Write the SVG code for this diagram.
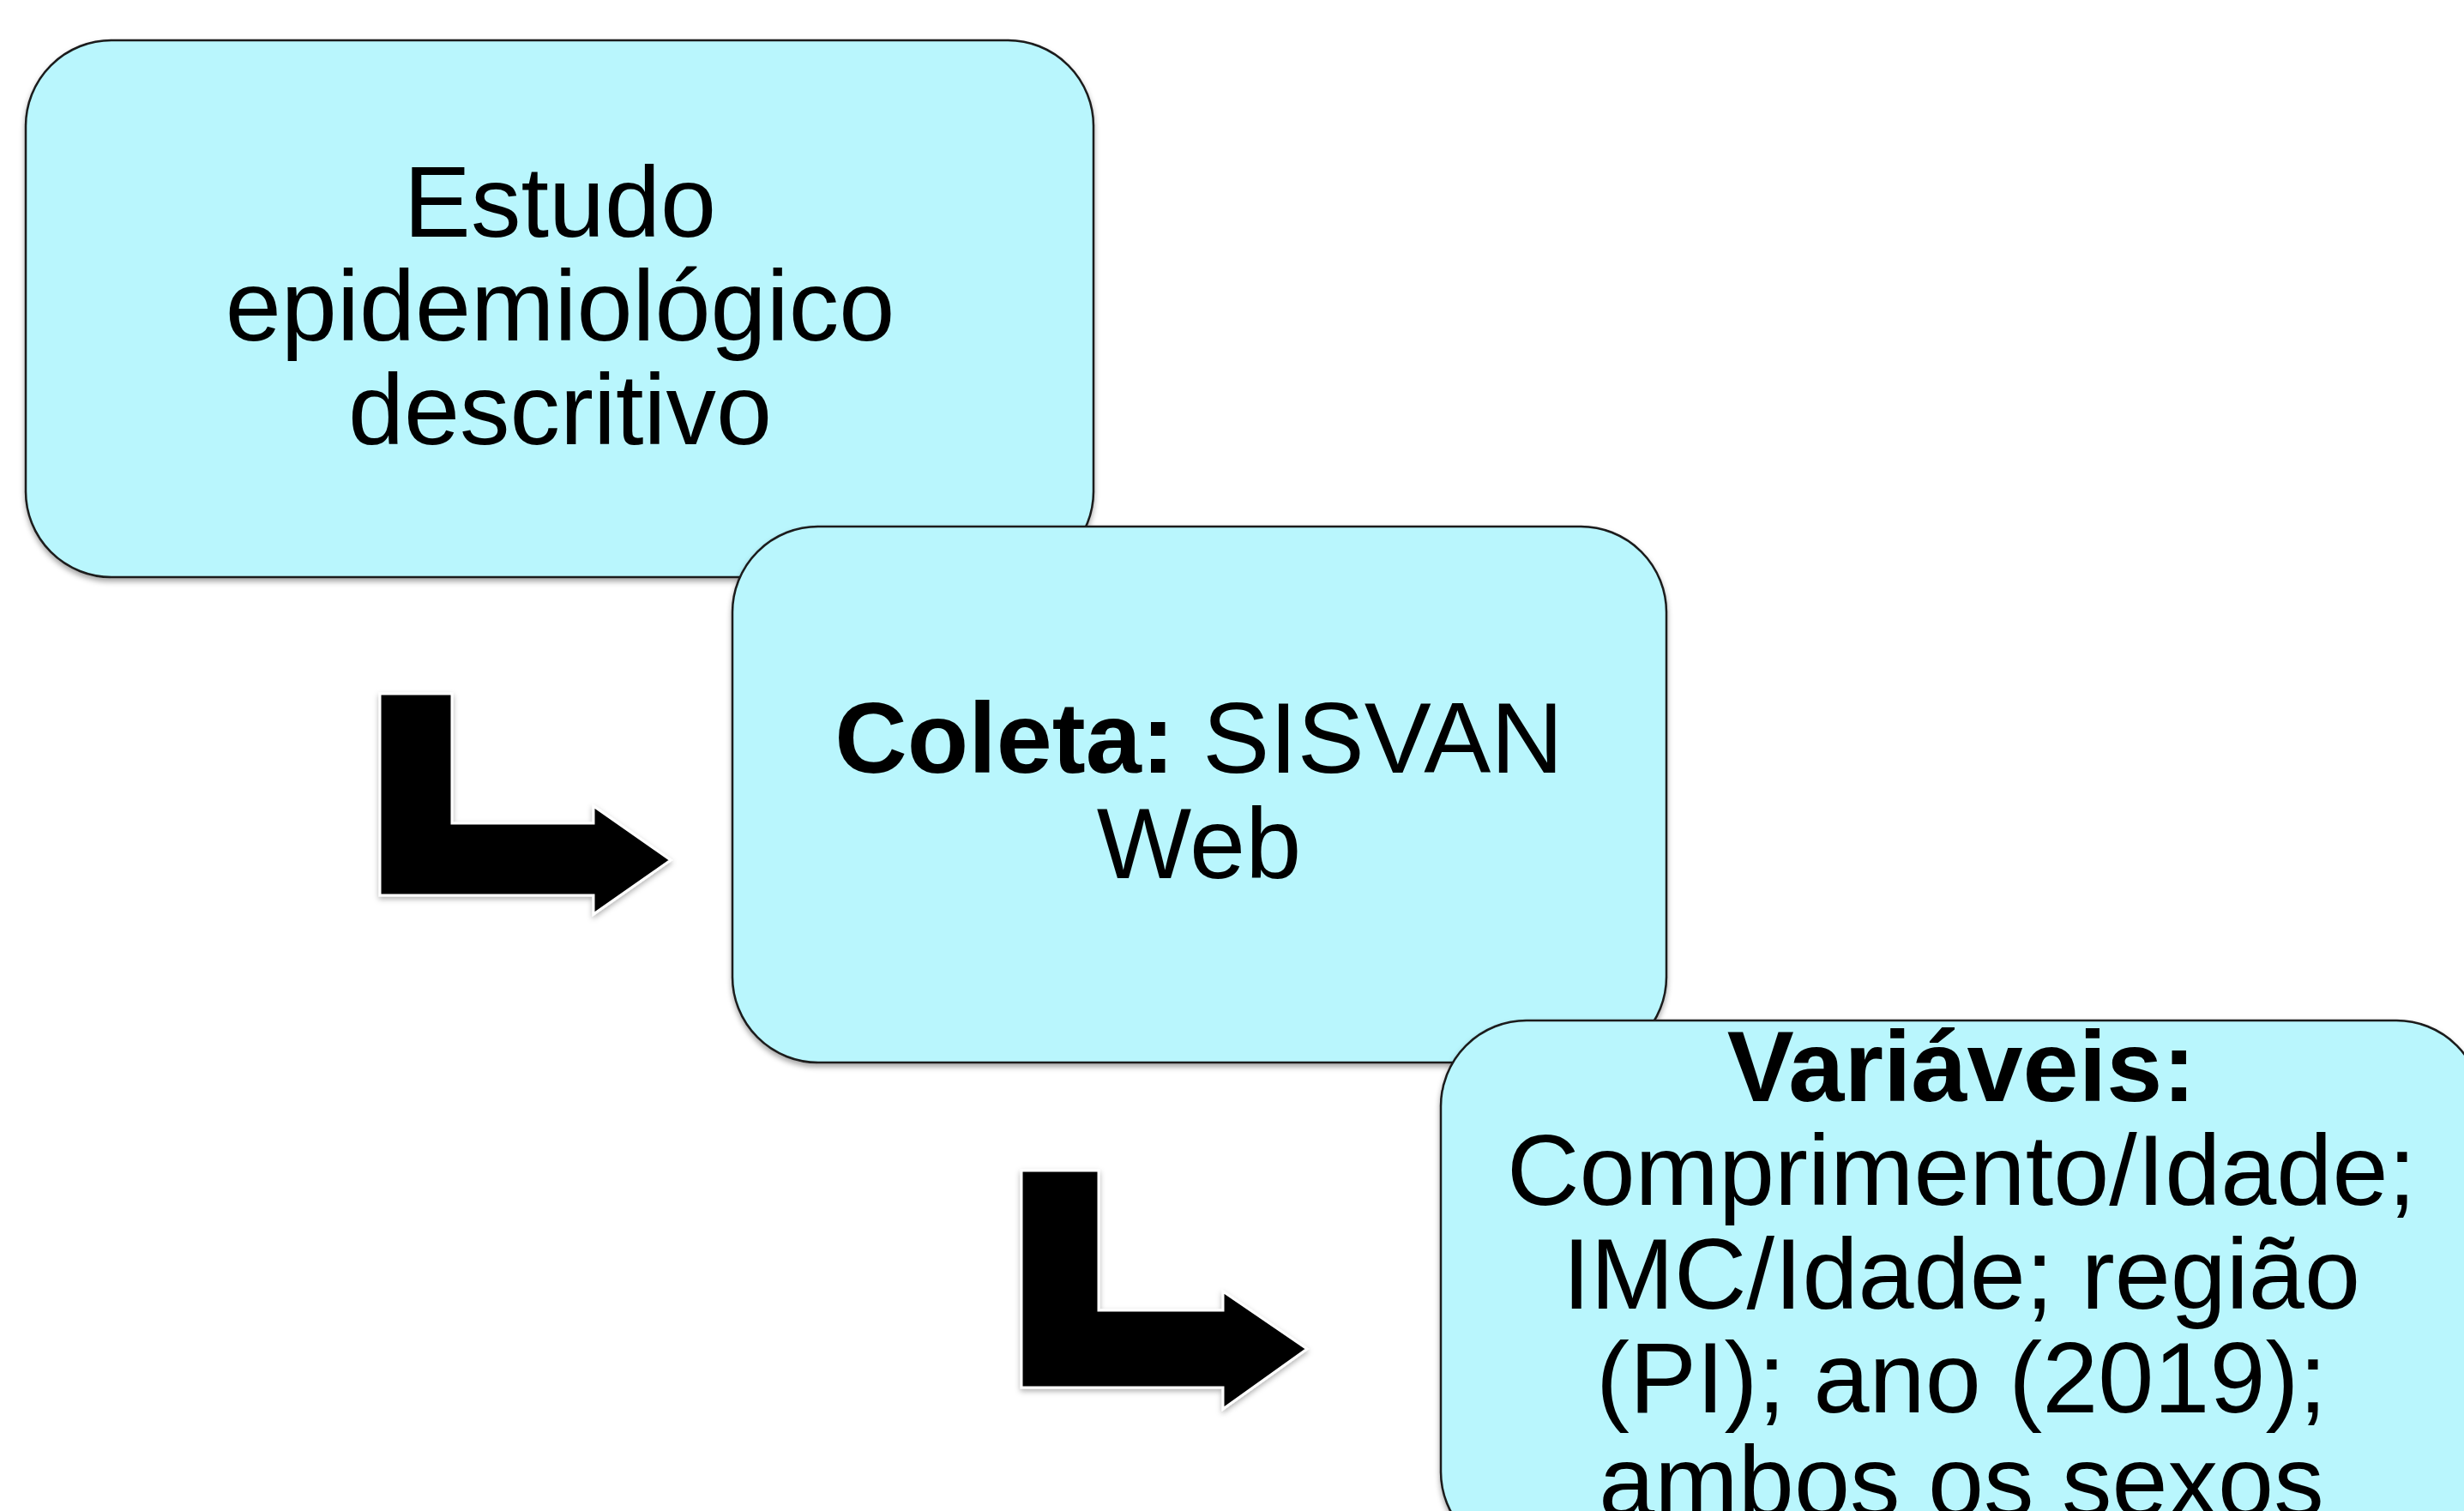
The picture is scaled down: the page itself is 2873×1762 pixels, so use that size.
<svg xmlns="http://www.w3.org/2000/svg" width="2873" height="1762" viewBox="0 0 2873 1762">
<style>
.box{fill:#B9F6FD;stroke:#1a1a1a;stroke-width:2.5;filter:url(#sh)}
.arr{fill:#000;stroke:#fff;stroke-width:3;filter:url(#sh2)}
text{font-family:"Liberation Sans",Arial,sans-serif;font-size:117px;fill:#000;text-anchor:middle}
.b{font-weight:bold}
</style>
<defs>
<filter id="sh" x="-5%" y="-5%" width="110%" height="115%">
<feDropShadow dx="0" dy="4" stdDeviation="3" flood-color="#000" flood-opacity="0.35"/>
</filter>
<filter id="sh2" x="-10%" y="-10%" width="120%" height="125%">
<feDropShadow dx="0" dy="3" stdDeviation="3" flood-color="#000" flood-opacity="0.3"/>
</filter>
</defs>
<g id="connectors">
<path class="arr" d="M443,809 L527,809 L527,960 L692,960 L692,940 L782,1003 L692,1066 L692,1044 L443,1044 Z"/>
<path class="arr" d="M1191,1365 L1281,1365 L1281,1528 L1426,1528 L1426,1506 L1524,1573 L1426,1643 L1426,1618 L1191,1618 Z"/>
</g>
<g id="node1">
<rect class="box" x="30" y="47" width="1245" height="626" rx="100" ry="100"/>
<text x="653" y="276">Estudo</text>
<text x="653" y="397">epidemiológico</text>
<text x="653" y="518">descritivo</text>
</g>
<g id="node2">
<rect class="box" x="854" y="614" width="1089" height="625" rx="100" ry="100"/>
<text x="1398" y="901"><tspan class="b">Coleta:</tspan> SISVAN</text>
<text x="1398" y="1024">Web</text>
</g>
<g id="node3">
<rect class="box" x="1680" y="1190" width="1214" height="626" rx="100" ry="100"/>
<text x="2287" y="1284" class="b">Variáveis:</text>
<text x="2287" y="1405">Comprimento/Idade;</text>
<text x="2287" y="1526">IMC/Idade; região</text>
<text x="2287" y="1647">(PI); ano (2019);</text>
<text x="2287" y="1768">ambos os sexos</text>
</g>
</svg>
